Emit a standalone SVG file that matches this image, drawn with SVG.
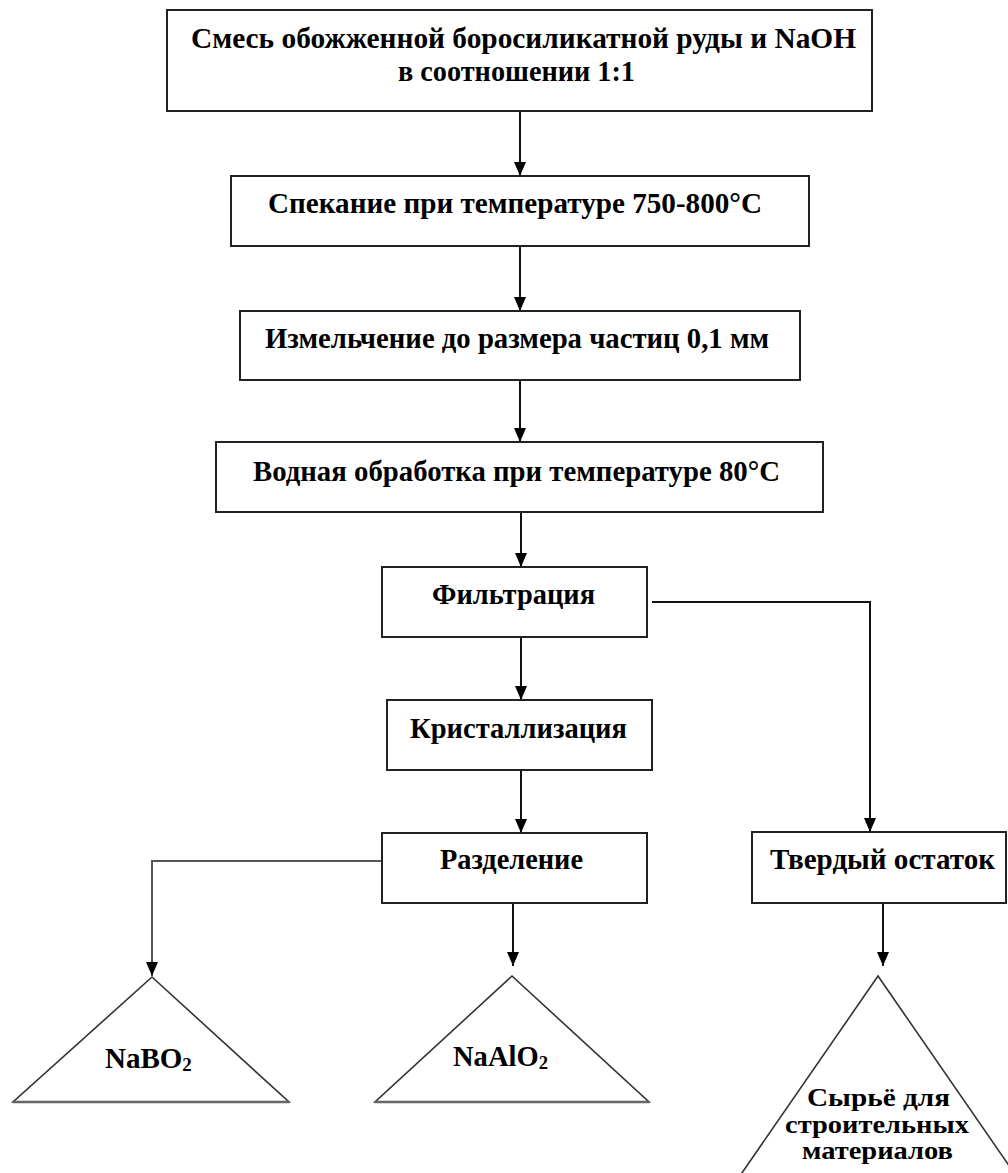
<svg xmlns="http://www.w3.org/2000/svg" width="1008" height="1173" viewBox="0 0 1008 1173">
<style>
.box{fill:#fff;stroke:#222;stroke-width:2}
.tri{fill:#fff;stroke:#333;stroke-width:1.6}
.base{stroke:#666;stroke-width:2.6}
.t{font-family:"Liberation Serif","Times New Roman",serif;font-weight:bold;font-size:29px;fill:#000}
.ts{font-family:"Liberation Serif","Times New Roman",serif;font-weight:bold;font-size:25px;fill:#000}
.tc{font-family:"Liberation Serif","Times New Roman",serif;font-weight:bold;font-size:29px;fill:#000}
.c{fill:none;stroke:#111;stroke-width:2;marker-end:url(#ah)}
.c2{fill:none;stroke:#555;stroke-width:2;marker-end:url(#ah)}
</style>
<defs>
<marker id="ah" markerUnits="userSpaceOnUse" markerWidth="14" markerHeight="12" refX="14" refY="6" orient="auto">
<path d="M0,0 L14,6 L0,12 z" fill="#000"/>
</marker>
</defs>
<rect width="1008" height="1173" fill="#fff"/>
<g id="connectors">
<path class="c" d="M520,111 V176"/>
<path class="c" d="M520,246 V311"/>
<path class="c" d="M520,380 V442"/>
<path class="c" d="M521,513 V567"/>
<path class="c" d="M521,637 V700"/>
<path class="c" d="M521,770 V833"/>
<path class="c" d="M652,602 H870 V832"/>
<path class="c2" d="M382,861 H152 V976"/>
<path class="c" d="M513,903 V966"/>
<path class="c" d="M883,903 V966"/>
</g>
<g id="n1">
<rect class="box" x="167" y="10" width="705" height="101"/>
<text class="t" x="191" y="48" textLength="665" lengthAdjust="spacingAndGlyphs">Смесь обожженной боросиликатной руды и NaOH</text>
<text class="t" x="398" y="81" textLength="237" lengthAdjust="spacingAndGlyphs">в соотношении 1:1</text>
</g>
<g id="n2">
<rect class="box" x="231" y="176" width="578" height="70"/>
<text class="t" x="268" y="213" textLength="494" lengthAdjust="spacingAndGlyphs">Спекание при температуре 750-800°С</text>
</g>
<g id="n3">
<rect class="box" x="240" y="311" width="560" height="69"/>
<text class="t" x="265" y="348" textLength="504" lengthAdjust="spacingAndGlyphs">Измельчение до размера частиц 0,1 мм</text>
</g>
<g id="n4">
<rect class="box" x="216" y="442" width="607" height="70"/>
<text class="t" x="253" y="481" textLength="527" lengthAdjust="spacingAndGlyphs">Водная обработка при температуре 80°С</text>
</g>
<g id="n5">
<rect class="box" x="382" y="567" width="265" height="70"/>
<text class="t" x="432" y="604" textLength="163" lengthAdjust="spacingAndGlyphs">Фильтрация</text>
</g>
<g id="n6">
<rect class="box" x="387" y="700" width="265" height="70"/>
<text class="t" x="410" y="738" textLength="217" lengthAdjust="spacingAndGlyphs">Кристаллизация</text>
</g>
<g id="n7">
<rect class="box" x="382" y="833" width="265" height="70"/>
<text class="t" x="440" y="869" textLength="143" lengthAdjust="spacingAndGlyphs">Разделение</text>
</g>
<g id="n8">
<rect class="box" x="752" y="832" width="254" height="71"/>
<text class="t" x="770" y="869" textLength="225" lengthAdjust="spacingAndGlyphs">Твердый остаток</text>
</g>
<g id="n9">
<polygon class="tri" points="152,977 13,1102 289,1102"/>
<line class="base" x1="13" y1="1102" x2="289" y2="1102"/>
<text class="tc" x="105" y="1068">NaBO<tspan font-size="19" dy="3">2</tspan></text>
</g>
<g id="n10">
<polygon class="tri" points="512,976 375,1102 649,1102"/>
<line class="base" x1="375" y1="1102" x2="649" y2="1102"/>
<text class="tc" x="453" y="1066" textLength="95" lengthAdjust="spacingAndGlyphs">NaAlO<tspan font-size="19" dy="3">2</tspan></text>
</g>
<g id="n11">
<polygon class="tri" points="878,976 735,1183 1021,1183"/>
<text class="ts" x="807" y="1106" textLength="143" lengthAdjust="spacingAndGlyphs">Сырьё для</text>
<text class="ts" x="785" y="1133" textLength="184" lengthAdjust="spacingAndGlyphs">строительных</text>
<text class="ts" x="802" y="1159" textLength="151" lengthAdjust="spacingAndGlyphs">материалов</text>
</g>
</svg>
